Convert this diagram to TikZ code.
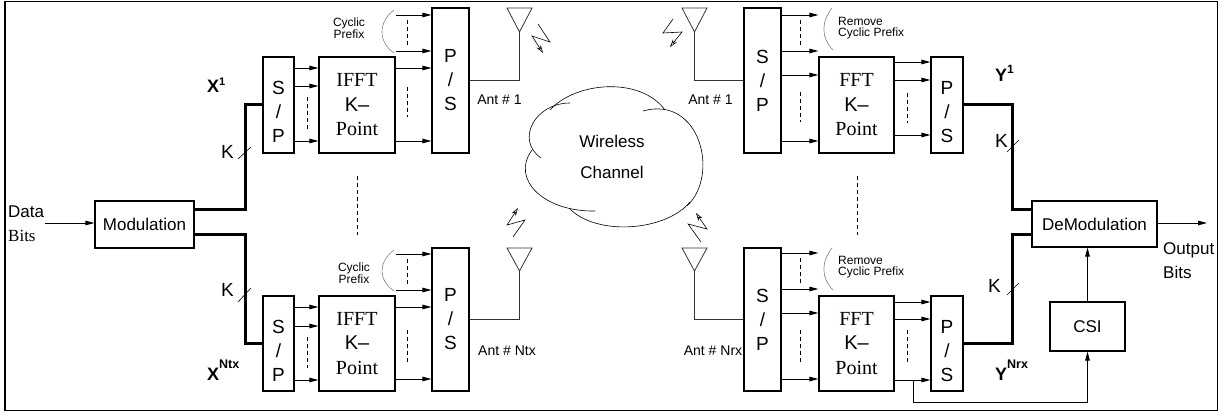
\documentclass[tikz,border=0pt]{standalone}
\usepackage{fontspec}
\setmainfont{Liberation Serif}
\setsansfont{Liberation Sans}
\usetikzlibrary{arrows.meta, calc, positioning}

\begin{document}
\begin{tikzpicture}[x=1pt, y=-1pt, >={Triangle[length=9pt,width=4.5pt]},
    blk/.style={draw, line width=1.1pt, inner sep=0pt, align=center},
    letters/.style={font=\sffamily\fontsize{19}{24}\selectfont},
    fftfont/.style={font=\rmfamily\fontsize{20}{24.5}\selectfont},
    lbl/.style={font=\sffamily\fontsize{17}{20}\selectfont, inner sep=0pt},
    klbl/.style={font=\sffamily\fontsize{19}{20}\selectfont, inner sep=0pt},
    xlbl/.style={font=\sffamily\bfseries\fontsize{18}{20}\selectfont, inner sep=0pt},
    cpfont/.style={font=\sffamily\fontsize{12}{10.5}\selectfont, inner sep=0pt},
    antlbl/.style={font=\sffamily\fontsize{14}{16}\selectfont, inner sep=0pt},
    sig/.style={->, line width=0.9pt},
    bus/.style={line width=3pt},
    dashline/.style={line width=0.9pt, dash pattern=on 4pt off 3pt},
    bolt/.style={-{Stealth[length=8pt,width=5pt,open]}, line width=0.6pt},
    ant/.style={line width=0.8pt, black!80},
    cparc/.style={gray, line width=0.6pt}
]
\useasboundingbox (0,0) rectangle (1230,419);

% Outer frame
\draw[line width=1.5pt] (5,1.5) rectangle (1217.5,410.5);

% Source and modulation
\node[lbl, anchor=west] (datatxt) at (8,212) {Data};
\node[lbl, font=\rmfamily\fontsize{17}{20}\selectfont, anchor=west] (databits) at (8,236) {Bits};
\node[blk, lbl, minimum width=99, minimum height=47] (mod) at (144.5,224.5) {Modulation};
\coordinate (datain) at (45,223);
\draw[sig] (datain) -- (mod.west |- datain);

% Transmit branch 1
\node[blk, letters, minimum width=31, minimum height=96] (sp1) at (278.5,105) {\rule{0pt}{28pt}S\\/\\P};
\node[blk, fftfont, minimum width=76, minimum height=96] (ifft1) at (357,105) {IFFT\\{\sffamily K--}\\Point};
\node[blk, letters, minimum width=37, minimum height=145] (ps1) at (450.5,80.5) {P\\/\\S};
\draw[sig] (sp1.east |- 0,68) -- (ifft1.west |- 0,68);
\draw[sig] (sp1.east |- 0,86) -- (ifft1.west |- 0,86);
\draw[sig] (sp1.east |- 0,141) -- (ifft1.west |- 0,141);
\draw[dashline] (307,97) -- (307,130);
\draw[sig] (ifft1.east |- 0,15) -- (ps1.west |- 0,15);
\draw[sig] (ifft1.east |- 0,51) -- (ps1.west |- 0,51);
\draw[dashline] (407,20) -- (407,45);
\draw[sig] (ifft1.east |- 0,68) -- (ps1.west |- 0,68);
\draw[sig] (ifft1.east |- 0,141) -- (ps1.west |- 0,141);
\draw[dashline] (407,87) -- (407,117);
\draw[cparc] (394,10) .. controls (378,22) and (378,42) .. (394,53);
\node[cpfont, align=center] (cp1) at (349,28) {Cyclic\\Prefix};
\coordinate (ant1) at (519.5,32);
\draw[ant] (507,8) -- (532,8) -- (ant1) -- cycle;
\draw[ant] (ps1.east) -| (ant1);
\node[antlbl] (antlbl1) at (499.5,100) {Ant \# 1};
\draw[bolt] (538,24) -- (550,42) -- (532,36) -- (543,53);

% Transmit branch Ntx
\node[blk, letters, minimum width=31, minimum height=95] (sp2) at (278.5,343.5) {\rule{0pt}{28pt}S\\/\\P};
\node[blk, fftfont, minimum width=76, minimum height=95] (ifft2) at (357,343.5) {IFFT\\{\sffamily K--}\\Point};
\node[blk, letters, minimum width=37, minimum height=143] (ps2) at (450.5,319.5) {P\\/\\S};
\draw[sig] (sp2.east |- 0,307) -- (ifft2.west |- 0,307);
\draw[sig] (sp2.east |- 0,326) -- (ifft2.west |- 0,326);
\draw[sig] (sp2.east |- 0,380) -- (ifft2.west |- 0,380);
\draw[dashline] (307,337) -- (307,368);
\draw[sig] (ifft2.east |- 0,254) -- (ps2.west |- 0,254);
\draw[sig] (ifft2.east |- 0,290) -- (ps2.west |- 0,290);
\draw[dashline] (407,259) -- (407,284);
\draw[sig] (ifft2.east |- 0,307) -- (ps2.west |- 0,307);
\draw[sig] (ifft2.east |- 0,379) -- (ps2.west |- 0,379);
\draw[dashline] (407,330) -- (407,362);
\draw[cparc] (394,250) .. controls (378,262) and (378,280) .. (394,291);
\node[cpfont, align=center] (cp2) at (354,273) {Cyclic\\Prefix};
\coordinate (ant2) at (519.5,271);
\draw[ant] (507,248) -- (532,248) -- (ant2) -- cycle;
\draw[ant] (ps2.east) -| (ant2);
\node[antlbl] (antlbl2) at (507,351) {Ant \# Ntx};
\draw[bolt] (513,237) -- (525,220) -- (507,225) -- (518,208);

% Buses into the transmit branches
\draw[bus] (mod.east |- 0,210) -- (245,210) |- (sp1.west);
\draw[bus] (mod.east |- 0,235) -- (245,235) |- (sp2.west);
\draw[line width=0.6pt] (238,159) -- (251,147);
\draw[line width=0.6pt] (238,302) -- (251,288);
\node[klbl, anchor=base west] (k1) at (221,159) {K};
\node[klbl, anchor=base west] (k2) at (221,297) {K};
\node[xlbl, anchor=base west] (x1) at (207,93) {X\raisebox{7pt}{\fontsize{11}{11}\selectfont 1}};
\node[xlbl, anchor=base west] (x2) at (207,380) {X\raisebox{12pt}{\fontsize{12.5}{12}\selectfont Ntx}};
\draw[dashline] (357,176) -- (357,235);

% Wireless channel
\draw[line width=0.6pt] (550,110) .. controls (575,82) and (640,76) .. (665,110);
\draw[line width=0.6pt] (570,103) .. controls (535,103) and (515,140) .. (541,158);
\draw[line width=0.6pt] (532,150) .. controls (510,180) and (545,212) .. (595,211);
\draw[line width=0.6pt] (569,208) .. controls (595,236) and (665,232) .. (690,202);
\draw[line width=0.6pt] (643,111) .. controls (700,95) and (720,175) .. (687,206);
\node[lbl, font=\sffamily\fontsize{17}{31}\selectfont, align=center] (chan) at (612,157) {Wireless\\Channel};

% Receive branch 1
\node[blk, letters, minimum width=37, minimum height=145] (spr1) at (762.5,80.5) {S\\/\\P};
\coordinate (antr1) at (694.5,32);
\draw[ant] (682,8) -- (707,8) -- (antr1) -- cycle;
\draw[ant] (spr1.west) -| (antr1);
\node[antlbl] (antlblr1) at (710.5,100) {Ant \# 1};
\draw[bolt] (673,19) -- (663,33) -- (682,32) -- (670,47);
\node[blk, fftfont, minimum width=75, minimum height=96] (fftr1) at (856.5,105) {FFT\\{\sffamily K--}\\Point};
\draw[sig] (spr1.east |- 0,15) -- (fftr1.west |- 0,15);
\draw[sig] (spr1.east |- 0,51) -- (fftr1.west |- 0,51);
\draw[sig] (spr1.east |- 0,75) -- (fftr1.west |- 0,75);
\draw[sig] (spr1.east |- 0,141) -- (fftr1.west |- 0,141);
\draw[dashline] (800,20) -- (800,45);
\draw[dashline] (800,92) -- (800,122);
\draw[cparc] (832,8) .. controls (821,22) and (821,38) .. (833,50);
\node[cpfont, align=left, anchor=west] (rcp1) at (838,28) {Remove\\Cyclic Prefix};
\node[blk, letters, minimum width=32, minimum height=96] (psr1) at (947,105) {\rule{0pt}{28pt}P\\/\\S};
\draw[sig] (fftr1.east |- 0,62) -- (psr1.west |- 0,62);
\draw[sig] (fftr1.east |- 0,80) -- (psr1.west |- 0,80);
\draw[sig] (fftr1.east |- 0,135) -- (psr1.west |- 0,135);
\draw[dashline] (907,93) -- (907,123);

% Receive branch Nrx
\node[blk, letters, minimum width=37, minimum height=143] (spr2) at (762.5,319.5) {S\\/\\P};
\coordinate (antr2) at (694.5,271);
\draw[ant] (682,248) -- (707,248) -- (antr2) -- cycle;
\draw[ant] (spr2.west) -| (antr2);
\node[antlbl] (antlblr2) at (713,351) {Ant \# Nrx};
\draw[bolt] (701,242) -- (688,224) -- (707,229) -- (696,213);
\node[blk, fftfont, minimum width=75, minimum height=95] (fftr2) at (856.5,343.5) {FFT\\{\sffamily K--}\\Point};
\draw[sig] (spr2.east |- 0,253) -- (fftr2.west |- 0,253);
\draw[sig] (spr2.east |- 0,289) -- (fftr2.west |- 0,289);
\draw[sig] (spr2.east |- 0,313) -- (fftr2.west |- 0,313);
\draw[sig] (spr2.east |- 0,379) -- (fftr2.west |- 0,379);
\draw[dashline] (800,258) -- (800,284);
\draw[dashline] (800,330) -- (800,362);
\draw[cparc] (832,248) .. controls (821,262) and (821,278) .. (833,290);
\node[cpfont, align=left, anchor=west] (rcp2) at (838,267) {Remove\\Cyclic Prefix};
\node[blk, letters, minimum width=32, minimum height=95] (psr2) at (947,343.5) {\rule{0pt}{28pt}P\\/\\S};
\draw[sig] (fftr2.east |- 0,302) -- (psr2.west |- 0,302);
\draw[sig] (fftr2.east |- 0,319) -- (psr2.west |- 0,319);
\draw[sig] (fftr2.east |- 0,380) -- (psr2.west |- 0,380);
\draw[dashline] (907,330) -- (907,362);
\draw[dashline] (857,176) -- (857,235);

% Demodulation and CSI
\node[blk, lbl, minimum width=125, minimum height=46] (demod) at (1094.5,224) {DeModulation};
\draw[bus] (psr1.east) -- (1012,105) |- (demod.west |- 0,210);
\draw[bus] (psr2.east) -- (1012,343.5) |- (demod.west |- 0,235);
\draw[line width=0.6pt] (1007,152) -- (1019,140);
\draw[line width=0.6pt] (1007,295) -- (1019,283);
\node[klbl, anchor=base west] (k3) at (995,148) {K};
\node[klbl, anchor=base west] (k4) at (988,292) {K};
\node[xlbl, anchor=base west] (y1) at (995,82) {Y\raisebox{8pt}{\fontsize{12}{12}\selectfont 1}};
\node[xlbl, anchor=base west] (y2) at (995,380) {Y\raisebox{12pt}{\fontsize{12.5}{12}\selectfont Nrx}};
\coordinate (outb) at (1207,223);
\draw[sig] (demod.east |- outb) -- (outb);
\node[lbl, anchor=west] (outtxt) at (1163,250) {Output};
\node[lbl, anchor=west] (outbits) at (1163,272) {Bits};
\node[blk, lbl, minimum width=75, minimum height=49] (csi) at (1087.5,326.5) {CSI};
\draw[sig] (csi.north) -- (csi.north |- demod.south);
\coordinate (tap) at (913,380);
\draw[sig] (tap) -- (913,402) -| (csi.south);
\end{tikzpicture}
\end{document}
